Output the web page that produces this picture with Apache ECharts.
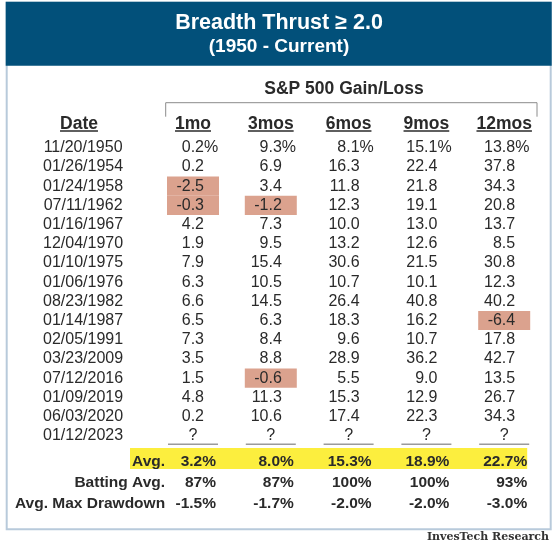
<!DOCTYPE html>
<html><head><meta charset="utf-8">
<script src="https://cdn.jsdelivr.net/npm/echarts@6/dist/echarts.min.js"></script>
<style>html,body{margin:0;padding:0;background:#fff}#c{width:559px;height:548px}</style>
</head><body><div id="c"></div>
<script>
const title = 'Breadth Thrust \u2265 2.0';
const subtitle = '(1950 - Current)';
const groupTitle = 'S&P 500 Gain/Loss';
const dateHeader = 'Date';
const columns = ['1mo', '3mos', '6mos', '9mos', '12mos'];
const dates = ['11/20/1950','01/26/1954','01/24/1958','07/11/1962','01/16/1967','12/04/1970','01/10/1975','01/06/1976','08/23/1982','01/14/1987','02/05/1991','03/23/2009','07/12/2016','01/09/2019','06/03/2020','01/12/2023'];
const m1  = [0.2, 0.2, -2.5, -0.3, 4.2, 1.9, 7.9, 6.3, 6.6, 6.5, 7.3, 3.5, 1.5, 4.8, 0.2, null];
const m3  = [9.3, 6.9, 3.4, -1.2, 7.3, 9.5, 15.4, 10.5, 14.5, 6.3, 8.4, 8.8, -0.6, 11.3, 10.6, null];
const m6  = [8.1, 16.3, 11.8, 12.3, 10.0, 13.2, 30.6, 10.7, 26.4, 18.3, 9.6, 28.9, 5.5, 15.3, 17.4, null];
const m9  = [15.1, 22.4, 21.8, 19.1, 13.0, 12.6, 21.5, 10.1, 40.8, 16.2, 10.7, 36.2, 9.0, 12.9, 22.3, null];
const m12 = [13.8, 37.8, 34.3, 20.8, 13.7, 8.5, 30.8, 12.3, 40.2, -6.4, 17.8, 42.7, 13.5, 26.7, 34.3, null];
const summaryLabels = ['Avg.', 'Batting Avg.', 'Avg. Max Drawdown'];
const avg = [3.2, 8.0, 15.3, 18.9, 22.7];
const batting = [87, 87, 100, 100, 93];
const drawdown = [-1.5, -1.7, -2.0, -2.0, -3.0];
const source = 'InvesTech Research';

const FF = '"Liberation Sans", Arial, sans-serif';
const TXT = '#2a2a2a';
const series = [m1, m3, m6, m9, m12];

const cells = [];
series.forEach((arr, c) => arr.forEach((v, r) => cells.push({c, r, v})));
const summaryRows = [
  avg.map(v => v.toFixed(1) + '%'),
  batting.map(v => v + '%'),
  drawdown.map(v => v.toFixed(1) + '%')
];
const summaryCells = [];
summaryRows.forEach((row, r) => row.forEach((t, c) => summaryCells.push({c, r, t})));

function renderCell(params, api) {
  const cell = cells[params.dataIndex];
  const p = api.coord([cell.c, cell.r]);
  const h = api.size([1, 1])[1];
  const ch = [];
  if (cell.v === null) {
    ch.push({type: 'text', x: p[0], y: p[1], style: {text: '?', align: 'center', verticalAlign: 'middle', font: '16px ' + FF, fill: TXT}});
    ch.push({type: 'line', shape: {x1: p[0] - 25, y1: p[1] + h / 2 - 1, x2: p[0] + 25, y2: p[1] + h / 2 - 1}, style: {stroke: '#9a9a9a', lineWidth: 1.5}});
  } else {
    if (cell.v < 0) {
      ch.push({type: 'rect', shape: {x: p[0] - 26, y: p[1] - h / 2, width: 52, height: h}, style: {fill: '#DBA28E'}});
    }
    ch.push({type: 'text', x: p[0] + 11, y: p[1], style: {text: cell.v.toFixed(1), align: 'right', verticalAlign: 'middle', font: '16px ' + FF, fill: TXT}});
    if (cell.r === 0) {
      ch.push({type: 'text', x: p[0] + 11, y: p[1], style: {text: '%', align: 'left', verticalAlign: 'middle', font: '16px ' + FF, fill: TXT}});
    }
  }
  return {type: 'group', children: ch};
}

function renderSummary(params, api) {
  const cell = summaryCells[params.dataIndex];
  const p = api.coord([cell.c, cell.r]);
  return {type: 'text', x: p[0] + 23, y: p[1], style: {text: cell.t, align: 'right', verticalAlign: 'middle', font: 'bold 15.5px ' + FF, fill: TXT}};
}

function renderBand(params, api) {
  const a = api.coord([0, 0]);
  const b = api.coord([columns.length - 1, 0]);
  return {type: 'rect', shape: {x: a[0] - 63, y: a[1] - 13.5, width: (b[0] + 23) - (a[0] - 63), height: 21}, style: {fill: '#FCEE3E'}};
}

const chart = echarts.init(document.getElementById('c'), null, {renderer: 'canvas'});
const GL = 154.1, GW = 389;
const option = {
  animation: false,
  backgroundColor: '#fff',
  grid: [
    {left: GL, width: GW, top: 138.1, height: 307.2, containLabel: false, outerBoundsMode: 'none'},
    {left: GL, width: GW, top: 450.9, height: 63.75, containLabel: false, outerBoundsMode: 'none'}
  ],
  xAxis: [
    {gridIndex: 0, type: 'category', data: columns, position: 'top',
     axisLine: {show: false}, axisTick: {show: false}, splitLine: {show: false},
     axisLabel: {interval: 0, margin: 5, fontFamily: FF, fontSize: 17.5, fontWeight: 'bold', color: TXT, lineHeight: 18}},
    {gridIndex: 1, type: 'category', data: columns, show: false}
  ],
  yAxis: [
    {gridIndex: 0, type: 'category', data: dates, inverse: true,
     axisLine: {show: false}, axisTick: {show: false}, splitLine: {show: false},
     axisLabel: {interval: 0, margin: 71, align: 'center', fontFamily: FF, fontSize: 16, color: TXT}},
    {gridIndex: 1, type: 'category', data: summaryLabels, inverse: true, z: 5,
     axisLine: {show: false}, axisTick: {show: false}, splitLine: {show: false},
     axisLabel: {interval: 0, margin: -11, align: 'right', fontFamily: FF, fontSize: 15.5, fontWeight: 'bold', color: TXT}}
  ],
  series: [
    {type: 'custom', name: 'Gain/Loss', xAxisIndex: 0, yAxisIndex: 0, clip: false,
     encode: {x: 0, y: 1}, data: cells.map(d => [d.c, d.r]), renderItem: renderCell},
    {type: 'custom', name: 'AvgBand', xAxisIndex: 1, yAxisIndex: 1, clip: false, z: 1,
     encode: {x: 0, y: 1}, data: [[0, 0]], renderItem: renderBand},
    {type: 'custom', name: 'Summary', xAxisIndex: 1, yAxisIndex: 1, clip: false, z: 6,
     encode: {x: 0, y: 1}, data: summaryCells.map(d => [d.c, d.r]), renderItem: renderSummary}
  ]
};
chart.setOption(option);

const ctx = document.createElement('canvas').getContext('2d');
function tw(text, font) { ctx.font = font; return ctx.measureText(text).width; }
const hFont = 'bold 17.5px ' + FF;
const graphics = [
  {type: 'rect', z: 0, shape: {x: 6.7, y: 2.7, width: 544, height: 526.6}, style: {fill: 'none', stroke: '#B8CADB', lineWidth: 2}},
  {type: 'rect', z: 1, shape: {x: 5.7, y: 1.7, width: 546, height: 64}, style: {fill: '#02507A'}},
  {type: 'text', z: 2, x: 279, y: 23, style: {text: title, align: 'center', verticalAlign: 'middle', font: 'bold 21.5px ' + FF, fill: '#fff'}},
  {type: 'text', z: 2, x: 279, y: 47, style: {text: subtitle, align: 'center', verticalAlign: 'middle', font: 'bold 19px ' + FF, fill: '#fff'}},
  {type: 'text', z: 2, x: 344, y: 89, style: {text: groupTitle, align: 'center', verticalAlign: 'middle', font: hFont, fill: TXT}},
  {type: 'polyline', z: 2, shape: {points: [[165.7, 116.7], [165.7, 102.7], [537, 102.7], [537, 116.7]]}, style: {stroke: '#8c8c8c', lineWidth: 1, fill: 'none'}},
  {type: 'text', z: 2, x: 79, y: 124, style: {text: dateHeader, align: 'center', verticalAlign: 'middle', font: hFont, fill: TXT}},
  {type: 'text', z: 2, right: 10, top: 532, style: {text: source, font: 'bold 11px "DejaVu Serif", serif', fill: '#333'}}
];
const dw = tw(dateHeader, hFont);
graphics.push({type: 'line', z: 2, shape: {x1: 79 - dw / 2, y1: 131, x2: 79 + dw / 2, y2: 131}, style: {stroke: TXT, lineWidth: 1.4}});
columns.forEach(col => {
  const x = chart.convertToPixel({xAxisIndex: 0}, col);
  const w = tw(col, hFont);
  graphics.push({type: 'line', z: 2, shape: {x1: x - w / 2, y1: 131, x2: x + w / 2, y2: 131}, style: {stroke: TXT, lineWidth: 1.4}});
});
chart.setOption({graphic: graphics});
</script></body></html>
